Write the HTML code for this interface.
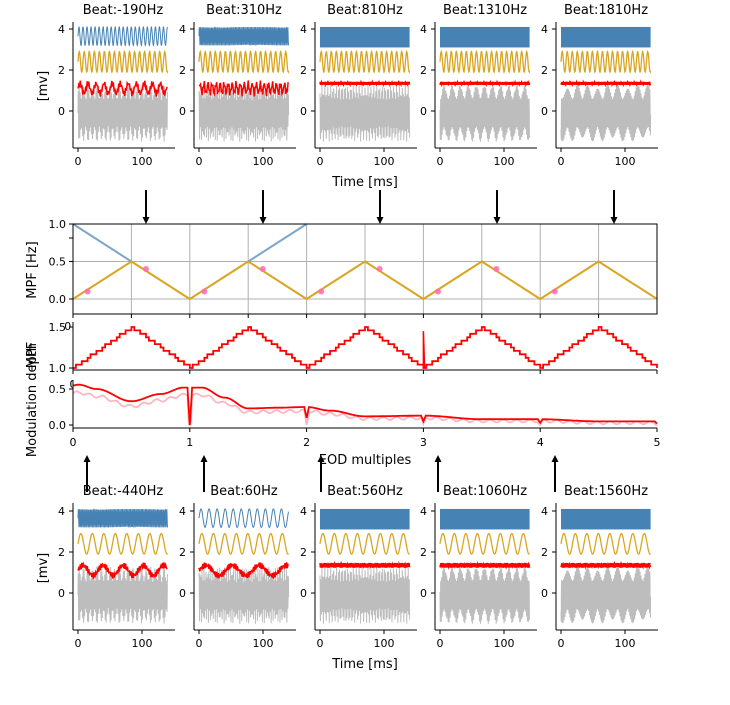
<!DOCTYPE html><html><head><style>body{margin:0;background:#fff}svg{font-family:"DejaVu Sans","Liberation Sans",sans-serif}</style></head><body>
<svg id="s" width="730" height="700" xmlns="http://www.w3.org/2000/svg"></svg>
<script>
const s=document.getElementById('s');let h='';
function T(x,y,t,sz,anc,rot){h+=`<text x="${x}" y="${y}" font-size="${sz||11}" text-anchor="${anc||'middle'}"${rot?` transform="rotate(-90 ${x} ${y})"`:''}>${t}</text>`;}
function P(pts,c,w,op){h+=`<polyline fill="none" stroke="${c}" stroke-width="${w||1}"${op?` opacity="${op}"`:''} points="${pts.map(p=>p[0].toFixed(1)+','+p[1].toFixed(1)).join(' ')}"/>`;}
function L(x1,y1,x2,y2,c,w){h+=`<line x1="${x1}" y1="${y1}" x2="${x2}" y2="${y2}" stroke="${c||'#000'}" stroke-width="${w||1}"/>`;}
function arrow(x,y1,y2){L(x,y1,x,y2+(y2>y1?-6:6),'#000',2);const d=y2>y1?-7:7;h+=`<polygon points="${x-3.5},${y2+d} ${x+3.5},${y2+d} ${x},${y2}" fill="#000"/>`;}
const lefts=[73,194,315,435,556];
function panels(top,bot,y0,titles,fb,fo,fr,blockFrom){
 const sc=20.5;
 lefts.forEach((lx,i)=>{
  const x0=lx+5,X=t=>x0+t*0.64,Y=v=>y0-v*sc;
  T(lx+50,top-8,titles[i],13);
  let g=[];for(let t=0;t<=140;t+=0.25){const e=0.75+0.25*Math.sin(t*0.9*(i+1));g.push([X(t),Y(-0.1+1.4*e*Math.sin(t*4.1+i))])}P(g,'#bdbdbd',1);
  let r=[];
  if(i<2){for(let t=0;t<=140;t+=1.2){r.push([X(t),Y(1.1+0.25*Math.sin(t*fr[i]*0.5)+0.15*Math.sin(t*2.3+i))])}}
  else{for(let t=0;t<=140;t+=0.6){r.push([X(t),Y(1.35+0.08*Math.sin(t*3.7+i)*(top>300?1.5:1))])}}
  P(r,'red',1.5);
  if(i>=blockFrom){h+=`<rect x="${X(0)}" y="${Y(4.1)}" width="${X(140)-X(0)}" height="${sc*1}" fill="#4682b4"/>`;}
  else{let b=[];for(let t=0;t<=140;t+=0.3){b.push([X(t),Y(3.65+0.45*Math.sin(t*fb[i]))])}P(b,'#4682b4',1);}
  let o=[];for(let t=0;t<=140;t+=0.5){o.push([X(t),Y(2.4+0.5*Math.sin(t*fo))])}P(o,'#daa520',1.3);
  L(lx,top,lx,bot);L(lx,bot,lx+102,bot);
  [[4,'4'],[2,'2'],[0,'0']].forEach(([v,l])=>{L(lx-4,Y(v),lx,Y(v));T(lx-8,Y(v)+4,l,11,'end')});
  [[0,'0'],[100,'100']].forEach(([v,l])=>{L(X(v),bot,X(v),bot+4);T(X(v),bot+17,l,11)});
 });
}
panels(22,148,111,['Beat:-190Hz','Beat:310Hz','Beat:810Hz','Beat:1310Hz','Beat:1810Hz'],[1.0,3.0],0.8,[1,2,3,3,3],2);
T(365,186,'Time [ms]',13);T(47,86,'[mv]',13,'middle',1);
panels(503,630,593,['Beat:-440Hz','Beat:60Hz','Beat:560Hz','Beat:1060Hz','Beat:1560Hz'],[3,0.5],0.35,[0.4,0.3,0.5,0.6,0.7],2);
T(365,668,'Time [ms]',13);T(47,568,'[mv]',13,'middle',1);
const MX=v=>73+v*116.8,MY=v=>299-v*75;
for(let k=1;k<10;k++)L(MX(k*0.5),224,MX(k*0.5),314,'#b0b0b0');
[0,0.5].forEach(v=>L(73,MY(v),657,MY(v),'#b0b0b0'));
P([[MX(0),MY(1)],[MX(0.5),MY(0.5)]],'#7ba6c9',2);P([[MX(1.5),MY(0.5)],[MX(2),MY(1)]],'#7ba6c9',2);
let tri=[];for(let k=0;k<=10;k++)tri.push([MX(k*0.5),MY(k%2?0.5:0)]);P(tri,'#daa520',2);
for(let k=0;k<5;k++){h+=`<circle cx="${MX(k+0.125)}" cy="${MY(0.1)}" r="3" fill="#ff69b4" opacity="0.85"/>`;if(k<4)h+=`<circle cx="${MX(k+0.625)}" cy="${MY(0.4)}" r="3" fill="#ff69b4" opacity="0.85"/>`;}
h+=`<rect x="73" y="224" width="584" height="90" fill="none" stroke="#000"/>`;
[[1,'1.0'],[0.5,'0.5'],[0,'0.0']].forEach(([v,l])=>{L(69,MY(v),73,MY(v));T(66,MY(v)+4,l,11,'end')});L(69,238,73,238);
for(let k=0;k<=9;k++){L(MX(k*.5),314,MX(k*.5),318);T(MX(k*.5),330,(k*.5).toFixed(1),11);}
T(36,270,'MPF [Hz]',13,'middle',1);
arrow(146,190,224);arrow(263,190,224);arrow(380,190,224);arrow(497,190,224);arrow(614,190,224);
h+=`<rect x="73" y="322" width="590" height="48" fill="#fff"/>`;
const SY=v=>368-(v-1)*82;let st=[];
for(let k=0;k<=200;k++){const x=k/40;const ph=(x%1);const tv=ph<0.5?ph*2:2-ph*2;const q=Math.round(tv*12)/12;st.push([MX(x),SY(1+0.5*q)]);st.push([MX((k+1)/40),SY(1+0.5*q)]);}
st.pop();P(st,'red',1.8);
P([[MX(3),SY(1)],[MX(3),SY(1.45)],[MX(3.01),SY(1)]],'red',1.5);
L(73,322,73,370);L(73,370,657,370);
[[1.5,'1.5'],[1,'1.0']].forEach(([v,l])=>{L(69,SY(v),73,SY(v));T(66,SY(v)+4,l,11,'end')});
for(let k=0;k<=5;k++){L(MX(k),370,MX(k),374);T(MX(k),388,k,11);}
h+=`<rect x="73" y="378" width="590" height="50" fill="#fff"/>`;
const DY=v=>425-v*72;
const cp=[[0,0.55],[0.05,0.56],[0.2,0.5],[0.5,0.33],[0.75,0.43],[0.95,0.52],[1.1,0.52],[1.3,0.38],[1.5,0.23],[1.75,0.24],[2,0.25],[2.2,0.2],[2.5,0.12],[3,0.13],[3.5,0.08],[4,0.08],[4.5,0.05],[5,0.05]];
function interp(x){for(let i=1;i<cp.length;i++){if(x<=cp[i][0]){const a=cp[i-1],b=cp[i];const t=(x-a[0])/(b[0]-a[0]);const tt=(1-Math.cos(Math.PI*t))/2;return a[1]+(b[1]-a[1])*tt;}}return 0.05;}
let d1=[],d2=[];
for(let k=0;k<=1000;k++){const x=k/200;const v=interp(x);const near=Math.abs(x-Math.round(x));const dip=(near<0.02&&x>0.5)?(1-near/0.02)*v*(Math.round(x)==1?1:0.6):0;
d1.push([MX(x),DY(Math.max(0,v-dip))]);d2.push([MX(x),DY(Math.max(0,v*0.82-0.01+0.02*Math.sin(x*55)-dip*1.3))]);}
P(d2,'#ffb6c1',1.8);P(d1,'red',1.8);
L(73,380,73,428);L(73,428,657,428);
[[0.5,'0.5'],[0,'0.0']].forEach(([v,l])=>{L(69,DY(v),73,DY(v));T(66,DY(v)+4,l,11,'end')});
for(let k=0;k<=5;k++){L(MX(k),428,MX(k),432);T(MX(k),446,k,11);}
T(365,464,'EOD multiples',13);T(36,400,'Modulation depth',13,'middle',1);T(36,355,'MPF',13,'middle',1);
arrow(87,492,455);arrow(204,492,455);arrow(321,492,455);arrow(438,492,455);arrow(555,492,455);
s.innerHTML=h;
</script></body></html>
